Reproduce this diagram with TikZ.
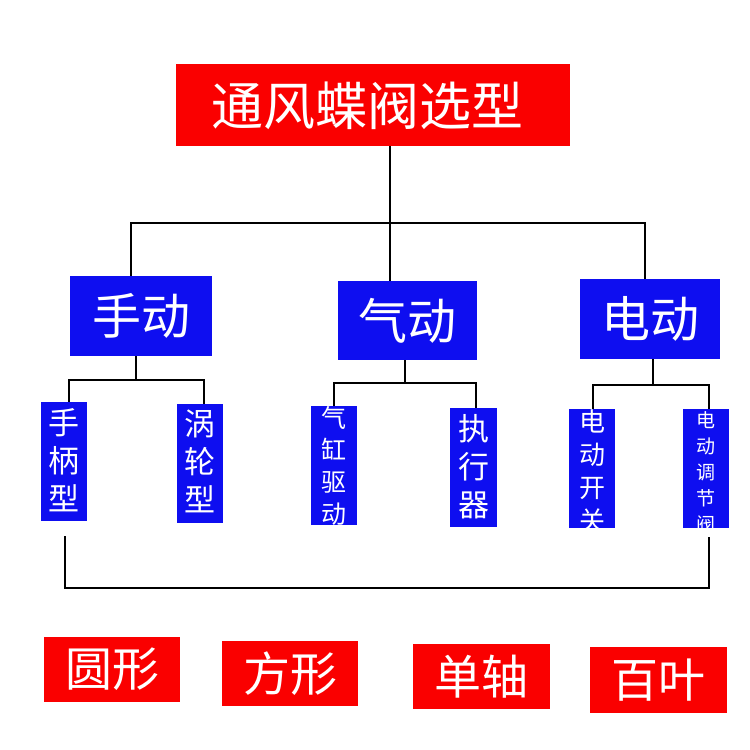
\documentclass[tikz,border=0pt]{standalone}
\usepackage{fontspec}
\setmainfont{Noto Sans CJK SC}
\definecolor{boxred}{RGB}{250,0,0}
\definecolor{boxblue}{RGB}{14,14,240}
\begin{document}
\begin{tikzpicture}[x=1pt, y=-1pt,
    red style/.style={fill=boxred, draw=none, inner sep=0pt},
    blue style/.style={fill=boxblue, draw=none, inner sep=0pt},
    white text/.style={text=white, inner sep=0pt, align=center},
    wire/.style={draw=black, line width=1.8pt},
    bracket/.style={draw=black, line width=2.8pt},]
    \useasboundingbox[fill=white] (0,0) rectangle (750,750);

    % title
    \node[red style, minimum width=394pt, minimum height=82pt] (title) at (373,105) {};
    \node[white text, font=\fontsize{52}{60}\selectfont] (title-t) at (367,106) {通风蝶阀选型};

    % drive types
    \node[blue style, minimum width=142pt, minimum height=80pt] (sd) at (141,316) {};
    \node[blue style, minimum width=139pt, minimum height=79pt] (qd) at (407.5,320.5) {};
    \node[blue style, minimum width=140pt, minimum height=80pt] (dd) at (650,319) {};
    \node[white text, font=\fontsize{49}{56}\selectfont] (sd-t) at (sd) {手动};
    \node[white text, font=\fontsize{49}{56}\selectfont] (qd-t) at (qd) {气动};
    \node[white text, font=\fontsize{49}{56}\selectfont] (dd-t) at (dd) {电动};

    % sub types
    \node[blue style, minimum width=46pt, minimum height=119pt] (hb) at (64,461.5) {};
    \node[blue style, minimum width=46pt, minimum height=119pt] (wl) at (200,463.5) {};
    \node[blue style, minimum width=46pt, minimum height=119pt] (qg) at (334,465.5) {};
    \node[blue style, minimum width=47pt, minimum height=119pt] (zx) at (473.5,467.5) {};
    \node[blue style, minimum width=46pt, minimum height=119pt] (dk) at (592,468.5) {};
    \node[blue style, minimum width=46pt, minimum height=119pt] (dt) at (706,468.5) {};
    \node[white text, anchor=north, font=\fontsize{31}{38}\selectfont] (hb-t) at (64,408) {手\\柄\\型};
    \node[white text, anchor=north, font=\fontsize{31}{38}\selectfont] (wl-t) at (200,410) {涡\\轮\\型};
    \node[white text, anchor=north, font=\fontsize{25}{32}\selectfont] (qg-t) at (334,406) {气\\缸\\驱\\动};
    \node[white text, anchor=north, font=\fontsize{31}{38}\selectfont] (zx-t) at (473.5,414) {执\\行\\器};
    \node[white text, anchor=north, font=\fontsize{26}{33}\selectfont] (dk-t) at (592,410) {电\\动\\开\\关};
    \node[white text, anchor=north, font=\fontsize{19}{26}\selectfont] (dt-t) at (706,411) {电\\动\\调\\节\\阀};

    % valve shapes
    \node[red style, minimum width=136pt, minimum height=65pt] (yx) at (112,669.5) {};
    \node[red style, minimum width=136pt, minimum height=65pt] (fx) at (290,673.5) {};
    \node[red style, minimum width=137pt, minimum height=65pt] (dz) at (481.5,676.5) {};
    \node[red style, minimum width=137pt, minimum height=66pt] (by) at (658.5,680) {};
    \node[white text, font=\fontsize{47}{54}\selectfont] (yx-t) at (yx) {圆形};
    \node[white text, font=\fontsize{47}{54}\selectfont] (fx-t) at (fx) {方形};
    \node[white text, font=\fontsize{47}{54}\selectfont] (dz-t) at (dz) {单轴};
    \node[white text, font=\fontsize{47}{54}\selectfont] (by-t) at (by) {百叶};

    \coordinate (j0) at (390,223);
    \coordinate (jl) at (131,223);
    \coordinate (jr) at (645,223);
    \coordinate (s0) at (136,380);
    \coordinate (s1) at (69,380);
    \coordinate (s2) at (204,380);
    \coordinate (q0) at (405,383);
    \coordinate (q1) at (334,383);
    \coordinate (q2) at (476,383);
    \coordinate (d0) at (653,385);
    \coordinate (d1) at (593,385);
    \coordinate (d2) at (709,385);
    \coordinate (b1) at (65,536);
    \coordinate (b2) at (65,588);
    \coordinate (b3) at (709,588);
    \coordinate (b4) at (709,537);

    \draw[wire] (title.south -| j0) -- (qd.north -| j0);
    \draw[wire] (sd.north -| jl) -- (jl) -- (jr) -- (dd.north -| jr);

    \draw[wire] (sd.south -| s0) -- (s0);
    \draw[wire] (hb.north -| s1) -- (s1) -- (s2) -- (wl.north -| s2);
    \draw[wire] (qd.south -| q0) -- (q0);
    \draw[wire] (qg.north -| q1) -- (q1) -- (q2) -- (zx.north -| q2);
    \draw[wire] (dd.south -| d0) -- (d0);
    \draw[wire] (dk.north -| d1) -- (d1) -- (d2) -- (dt.north -| d2);

    \draw[bracket] (b1) -- (b2) -- (b3) -- (b4);

\end{tikzpicture}
\end{document}
